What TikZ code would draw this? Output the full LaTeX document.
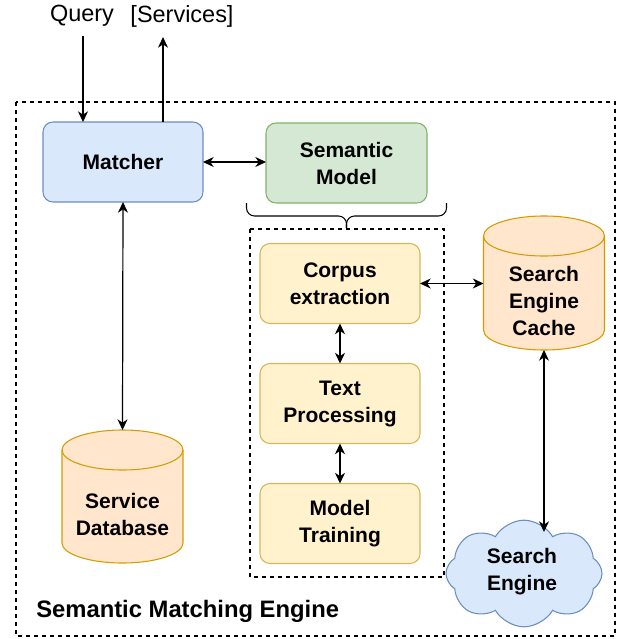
\documentclass[tikz,border=0pt]{standalone}
\usepackage{fontspec}
\setmainfont{Liberation Sans}
\usetikzlibrary{shapes.symbols,arrows.meta}

\definecolor{blueFill}{HTML}{DAE8FC}
\definecolor{blueLine}{HTML}{6C8EBF}
\definecolor{greenFill}{HTML}{D5E8D4}
\definecolor{greenLine}{HTML}{82B366}
\definecolor{yellowFill}{HTML}{FFF2CC}
\definecolor{yellowLine}{HTML}{D6B656}
\definecolor{orangeFill}{HTML}{FFE6CC}
\definecolor{orangeLine}{HTML}{D79B00}

% cylinder drawn around an empty named node
\newcommand\drawcyl[1]{%
  \filldraw[fill=orangeFill,draw=orangeLine,line width=0.8pt]
    ([yshift=-15pt]#1.north west) -- ([yshift=15pt]#1.south west)
    arc[start angle=180,end angle=360,x radius=45.375pt,y radius=15pt]
    -- ([yshift=-15pt]#1.north east)
    arc[start angle=0,end angle=180,x radius=45.375pt,y radius=15pt] -- cycle;
  \draw[orangeLine,line width=0.8pt] ([yshift=-15pt]#1.north west)
    arc[start angle=180,end angle=360,x radius=45.375pt,y radius=15pt];
}

\tikzset{
  boxtxt/.style={font=\fontsize{15.75pt}{20.25pt}\selectfont\bfseries,align=center},
  stepbox/.style={boxtxt,rounded corners=7.5pt,line width=0.8pt,
    minimum width=120pt,minimum height=60pt,inner sep=0pt,outer sep=0pt},
  bluebox/.style={stepbox,draw=blueLine,fill=blueFill},
  greenbox/.style={stepbox,draw=greenLine,fill=greenFill},
  yellowbox/.style={stepbox,draw=yellowLine,fill=yellowFill},
  cylholder/.style={minimum width=90.75pt,inner sep=0pt,outer sep=0pt},
  dashbox/.style={draw,line width=0.8pt,dash pattern=on 3pt off 3pt},
  arr/.style={-{Stealth[length=8pt,width=7.5pt,inset=2.5pt]},line width=0.9pt},
  biarr/.style={{Stealth[length=8pt,width=7.5pt,inset=2.5pt]}-{Stealth[length=8pt,width=7.5pt,inset=2.5pt]},line width=0.9pt},
  toptxt/.style={font=\fontsize{17.6pt}{20pt}\selectfont,inner sep=0pt},
}

\begin{document}
\begin{tikzpicture}[x=0.75pt,y=-0.75pt]
\useasboundingbox (0,0) rectangle (622,639);

% engine boundary and the model-building group
\draw[dashbox] (16,102) rectangle (615,636);
\draw[dashbox] (250,229) rectangle (444,577);

% boxes
\node[bluebox] (matcher) at (123,162) {Matcher};
\node[greenbox,minimum width=120.75pt] (semantic) at (346.5,163) {Semantic\\Model};
\node[yellowbox] (corpus) at (340,283.5) {Corpus\\extraction};
\node[yellowbox] (textproc) at (340,403.5) {Text\\Processing};
\node[yellowbox] (training) at (340,523.5) {Model\\Training};

% databases
\node[cylholder,minimum height=100.5pt] (cache) at (544,283) {};
\drawcyl{cache}
\node[boxtxt] (cachetxt) at (544,301) {Search\\Engine\\Cache};
\node[cylholder,minimum height=99.75pt] (db) at (122.5,496.5) {};
\drawcyl{db}
\node[boxtxt] (dbtxt) at (122.5,514) {Service\\Database};

% search engine cloud
\node[cloud,cloud puffs=8,cloud puff arc=120,aspect=1.5,draw=blueLine,fill=blueFill,
  line width=0.8pt,minimum width=117pt,minimum height=80pt,inner sep=0pt,boxtxt]
  (cloud) at (524,573.5) {};
\node[boxtxt] (cloudtxt) at (522,571.5) {Search\\Engine};

% brace under the semantic model
\draw[line width=0.8pt,rounded corners=6pt] (246.5,203) -- (246.5,216) -- (346.5,216) -- (346.5,228);
\draw[line width=0.8pt,rounded corners=6pt] (446.5,203) -- (446.5,216) -- (346.5,216) -- (346.5,228);

% query in, services out
\node[toptxt] (query) at (82,16) {Query};
\node[toptxt] (services) at (182,16) {[Services]};
\coordinate (qstart) at (83,36);
\coordinate (send) at (163,37);
\draw[arr] (qstart) -- (qstart |- matcher.north);
\draw[arr] (send |- matcher.north) -- (send);

% connectors
\draw[biarr] (matcher.east) -- (semantic.west |- matcher.east);
\draw[biarr] (matcher.south) -- (db.north);
\draw[biarr] (corpus.south) -- (textproc.north);
\draw[biarr] (textproc.south) -- (training.north);
\draw[biarr] (corpus.east) -- (cache.west |- corpus.east);
\coordinate (cloudtop) at (544,532);
\draw[biarr] (cache.south) -- (cloudtop);

% title of the engine
\node[anchor=west,inner sep=0pt,font=\fontsize{17.85pt}{20pt}\selectfont\bfseries]
  (title) at (36,611) {Semantic Matching Engine};
\end{tikzpicture}
\end{document}
